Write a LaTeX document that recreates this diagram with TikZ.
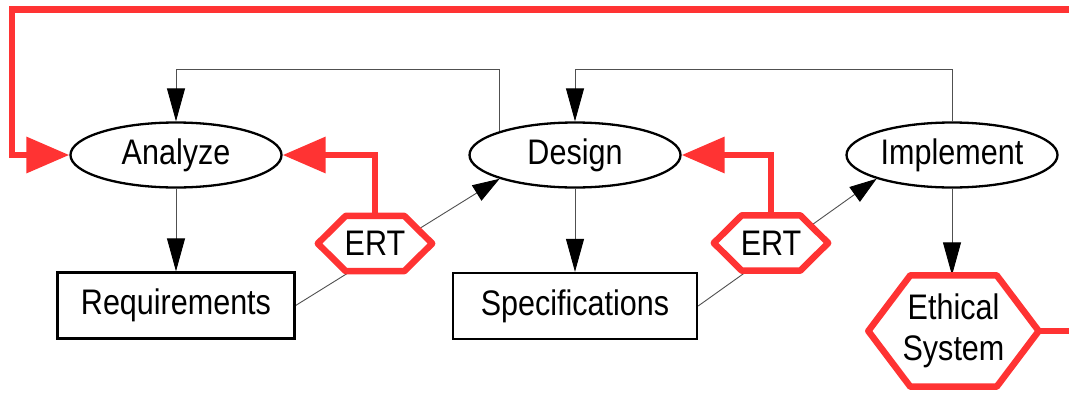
\documentclass[tikz,border=0pt]{standalone}
\usepackage{fontspec}
\setmainfont{Liberation Sans}[FakeStretch=0.86]
\usetikzlibrary{arrows.meta,shapes.geometric,calc}
\definecolor{ertred}{RGB}{255,51,51}
\definecolor{thinln}{RGB}{80,80,80}
\pgfdeclarelayer{bgg}
\pgfdeclarelayer{bg}
\pgfsetlayers{bgg,bg,main}
\begin{document}
\begin{tikzpicture}[x=1pt,y=-1pt,
  every node/.style={font=\fontsize{35.5}{41}\selectfont},
  oval/.style={ellipse,draw,line width=2.3pt,minimum width=211pt,minimum height=65pt,inner sep=0pt,fill=white},
  box/.style={rectangle,draw,line width=2.3pt,minimum height=66pt,inner sep=0pt,fill=white},
  hexlabel/.style={inner sep=0pt,align=center},
  hexline/.style={draw=ertred,line width=6.5pt,line join=round,fill=white},
  flow/.style={draw=thinln,line width=0.9pt},
  flowarrow/.style={flow,-{Triangle[length=33pt,width=18pt,color=black]}},
  flowdiag/.style={flow,-{Triangle[length=27pt,width=18pt,color=black]}},
  redarrow/.style={draw=ertred,line width=6.5pt,-{Triangle[length=43pt,width=35pt]}},
  redline/.style={draw=ertred,line width=6.5pt}
]
\useasboundingbox (0,0) rectangle (1069,394);
\clip (0,0) rectangle (1069,394);

% nodes
\node[oval] (analyze) at (176,155) {Analyze};
\node[oval] (design) at (575,155) {Design};
\node[oval] (impl) at (952,155) {Implement};
\node[box,minimum width=237pt] (req) at (176,305.5) {Requirements};
\node[box,minimum width=244pt] (spec) at (575,306) {Specifications};
\node[hexlabel,minimum width=114pt,minimum height=55pt] (ert1) at (375,243.5) {ERT};
\node[hexlabel,minimum width=114pt,minimum height=55pt] (ert2) at (771,243) {ERT};
\node[hexlabel,minimum width=170pt,minimum height=111pt] (es) at (953.5,331) {Ethical\\System};

\coordinate (rowA) at (0,69.5);
\coordinate (rowTop) at (0,9.5);
\coordinate (farRight) at (1090,331);
\coordinate (leftX) at (12,0);

% hexagon outlines
\begin{pgfonlayer}{bg}
\draw[hexline] (ert1.west) -- ([xshift=28pt]ert1.north west) -- ([xshift=-28pt]ert1.north east) -- (ert1.east) -- ([xshift=-28pt]ert1.south east) -- ([xshift=28pt]ert1.south west) -- cycle;
\draw[hexline] (ert2.west) -- ([xshift=28pt]ert2.north west) -- ([xshift=-28pt]ert2.north east) -- (ert2.east) -- ([xshift=-28pt]ert2.south east) -- ([xshift=28pt]ert2.south west) -- cycle;
\draw[hexline] (es.west) -- ([xshift=42pt]es.north west) -- ([xshift=-42pt]es.north east) -- (es.east) -- ([xshift=-42pt]es.south east) -- ([xshift=42pt]es.south west) -- cycle;
\end{pgfonlayer}

% thin connectors
\begin{pgfonlayer}{bgg}
\draw[flowarrow] (analyze.south) -- (req.north);
\draw[flowarrow] (design.south) -- (spec.north);
\draw[flowarrow] (impl.south) -- (impl.south |- es.north);
\draw[flowdiag] (req.east) -- (design.south west);
\draw[flowdiag] (spec.east) -- (impl.south west);
\draw[flowarrow] (design.north west) |- (rowA -| analyze.north) -- (analyze.north);
\draw[flowarrow] (impl.north) |- (rowA -| design.north) -- (design.north);
\end{pgfonlayer}

% red connectors
\draw[redarrow] (ert1.north) |- (analyze.east);
\draw[redarrow] (ert2.north) |- (design.east);
\draw[redarrow] (es.east) -- (farRight) |- (rowTop -| leftX) |- (analyze.west);
\end{tikzpicture}
\end{document}
